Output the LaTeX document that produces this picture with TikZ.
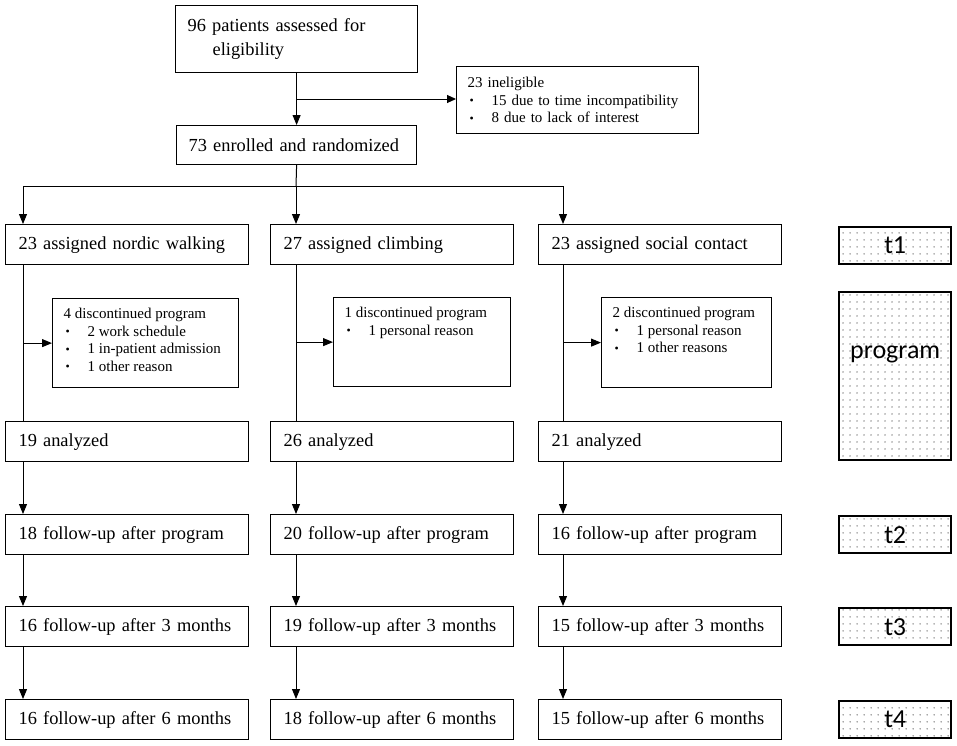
\documentclass[tikz,border=0pt]{standalone}
\usepackage{fontspec}
\setmainfont{Liberation Serif}
\newfontfamily\calfont{Carlito}
\usetikzlibrary{arrows.meta,patterns.meta}
\tikzdeclarepattern{
  name=sparsedots,
  type=colored,
  bottom left={(0pt,0pt)},
  top right={(7pt,6.5pt)},
  tile size={(7pt,6.5pt)},
  code={\fill[black!80] (3.5pt,3.25pt) circle (0.7pt);}
}
\newcommand\bul{\hspace*{2pt}\makebox[22pt][l]{\raisebox{0.5pt}{\fontsize{12}{12}\selectfont\textbullet}}}
\tikzset{
  mbox/.style={draw, line width=1.2pt, rectangle, anchor=north west, align=left,
    inner xsep=13pt, inner ysep=0pt, font=\fontsize{18.4}{24}\selectfont},
  sbox/.style={draw, line width=1.2pt, rectangle, anchor=north west,
    inner xsep=11pt, inner ysep=0pt, font=\fontsize{15}{17.5}\selectfont},
  tbox/.style={draw, line width=2.4pt, rectangle, anchor=north west, pattern=sparsedots,
    inner sep=0pt, minimum width=112pt, font=\calfont\fontsize{26}{26}\selectfont},
  conn/.style={line width=1pt},
  arr/.style={conn, -{Triangle[length=10pt,width=8pt]}}
}
\begin{document}
\begin{tikzpicture}[x=1pt,y=-1pt]
\useasboundingbox (0,0) rectangle (957,745);
% top part
\node[mbox, inner xsep=12pt, text width=218pt, minimum height=67pt] (top) at (175,5)
  {96 patients assessed for\\\hspace*{25pt}eligibility};
\node[sbox, align=left, text width=220pt, minimum height=67pt] (inel) at (456,66)
  {23 ineligible\\\bul 15 due to time incompatibility\\\bul 8 due to lack of interest};
\node[mbox, inner xsep=12pt, text width=216pt, minimum height=39pt] (enroll) at (176,125)
  {\mbox{73 enrolled and randomized}};
% header row
\node[mbox, text width=217pt, minimum height=40pt] (h1) at (5,224) {\mbox{23 assigned nordic walking}};
\node[mbox, text width=217pt, minimum height=40pt] (h2) at (270,224) {\mbox{27 assigned climbing}};
\node[mbox, text width=217pt, minimum height=40pt] (h3) at (538,224) {\mbox{23 assigned social contact}};
% discontinued
\node[sbox] (d1) at (52,298) {\begin{minipage}[t][89pt][t]{164pt}\rule{0pt}{20pt}4 discontinued program\\\bul 2 work schedule\\\bul 1 in-patient admission\\\bul 1 other reason\end{minipage}};
\node[sbox] (d2) at (333,297) {\begin{minipage}[t][89pt][t]{155pt}\rule{0pt}{20pt}1 discontinued program\\\bul 1 personal reason\end{minipage}};
\node[sbox] (d3) at (601,297) {\begin{minipage}[t][90pt][t]{148pt}\rule{0pt}{20pt}2 discontinued program\\\bul 1 personal reason\\\bul 1 other reasons\end{minipage}};
% analyzed
\node[mbox, text width=217pt, minimum height=40pt] (a1) at (5,421) {\mbox{19 analyzed}};
\node[mbox, text width=217pt, minimum height=40pt] (a2) at (270,421) {\mbox{26 analyzed}};
\node[mbox, text width=217pt, minimum height=40pt] (a3) at (538,421) {\mbox{21 analyzed}};
% follow-up after program
\node[mbox, text width=217pt, minimum height=40pt] (f1) at (5,514) {\mbox{18 follow-up after program}};
\node[mbox, text width=217pt, minimum height=40pt] (f2) at (270,514) {\mbox{20 follow-up after program}};
\node[mbox, text width=217pt, minimum height=40pt] (f3) at (538,514) {\mbox{16 follow-up after program}};
% 3 months
\node[mbox, text width=217pt, minimum height=40pt] (m1) at (5,606) {\mbox{16 follow-up after 3 months}};
\node[mbox, text width=217pt, minimum height=40pt] (m2) at (270,606) {\mbox{19 follow-up after 3 months}};
\node[mbox, text width=217pt, minimum height=40pt] (m3) at (538,606) {\mbox{15 follow-up after 3 months}};
% 6 months
\node[mbox, text width=217pt, minimum height=40pt] (s1) at (5,699) {\mbox{16 follow-up after 6 months}};
\node[mbox, text width=217pt, minimum height=40pt] (s2) at (270,699) {\mbox{18 follow-up after 6 months}};
\node[mbox, text width=217pt, minimum height=40pt] (s3) at (538,699) {\mbox{15 follow-up after 6 months}};
% time boxes
\node[tbox, minimum height=37pt] (t1) at (838,226) {t1};
\node[tbox, minimum height=168pt, label={[font=\calfont\fontsize{26}{26}\selectfont, yshift=22pt]center:program}] (tp) at (838,291) {};
\node[tbox, minimum height=37pt] (t2) at (838,515) {t2};
\node[tbox, minimum height=37pt] (t3) at (838,607) {t3};
\node[tbox, minimum height=37pt] (t4) at (838,700) {t4};
% connectors
\coordinate (sp) at (296,99);
\coordinate (br) at (296,186);
\coordinate (brL) at (23,186);
\coordinate (brR) at (563,186);
\draw[arr] (top.south) -- (enroll.north);
\draw[conn, -{Triangle[length=9pt,width=8pt]}] (sp) -- (sp -| inel.west);
\draw[conn] (enroll.south) -- (br);
\draw[conn] (brL) -- (brR);
\draw[arr] (brL) -- (brL |- h1.north);
\draw[arr] (br) -- (br |- h2.north);
\draw[arr] (brR) -- (brR |- h3.north);
\foreach \c/\i in {brL/1, br/2, brR/3}{
  \draw[conn] (\c |- h\i.south) -- (\c |- a\i.north);
  \draw[arr] (\c |- d\i.west) -- (d\i.west);
  \draw[arr] (\c |- a\i.south) -- (\c |- f\i.north);
  \draw[arr] (\c |- f\i.south) -- (\c |- m\i.north);
  \draw[arr] (\c |- m\i.south) -- (\c |- s\i.north);
}
\end{tikzpicture}
\end{document}
